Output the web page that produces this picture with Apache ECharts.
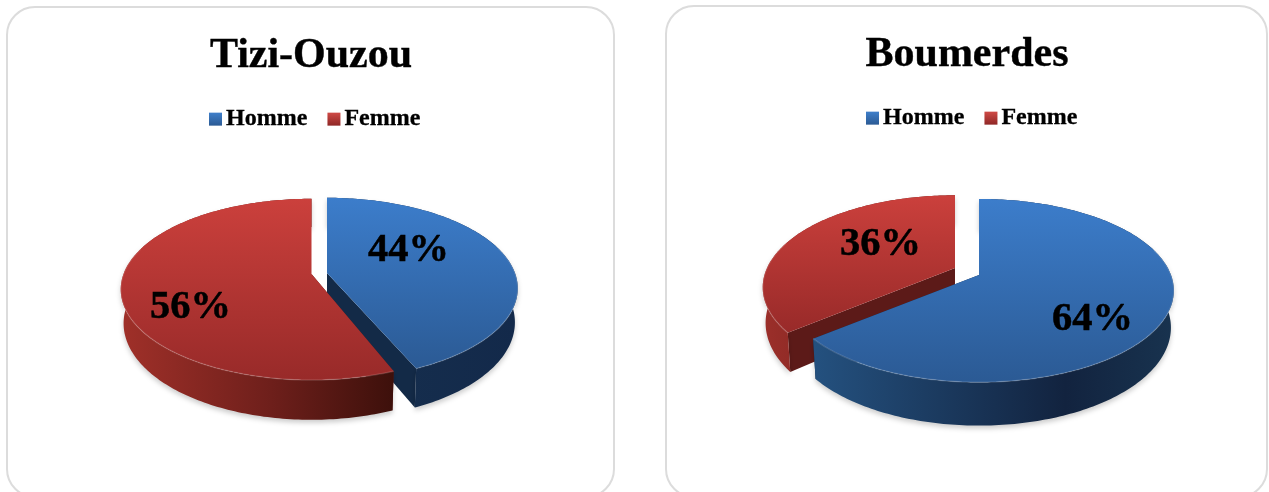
<!DOCTYPE html>
<html>
<head>
<meta charset="utf-8">
<style>html,body{margin:0;padding:0;background:#fff}#c{width:1269px;height:492px}</style>
<script src="https://cdn.jsdelivr.net/npm/echarts@6/dist/echarts.min.js"></script>
</head>
<body>
<div id="c"></div>
<script>
var categories = ['Homme', 'Femme'];
var tiziOuzouValues = [44, 56];
var boumerdesValues = [64, 36];
var chartTitles = ['Tizi-Ouzou', 'Boumerdes'];

var LG = echarts.graphic.LinearGradient;
var FONT = '"Liberation Serif", "Times New Roman", serif';
var BOTTOM_SCALE = 0.985;

function vgrad(a, b) { return new LG(0, 0, 0, 1, [{offset: 0, color: a}, {offset: 1, color: b}]); }
function hgrad(stops) {
  return new LG(0, 0, 1, 0, stops.map(function (s) { return {offset: s[0], color: s[1]}; }));
}
var topStyle = {Homme: ['#3c7dcb', '#2b5a94'], Femme: ['#cb403c', '#982a29']};
var innerWall = {Homme: '#132a47', Femme: '#5c1a18'};
var legendFill = {Homme: vgrad('#3f7fca', '#2b5a94'), Femme: vgrad('#cf4a46', '#8f2726')};

// Each slice: apex and radii of the projected disc, where its label sits.
var layouts = [
  {values: tiziOuzouValues, order: [0, 1], slices: [
    {ax: 327, ay: 273, r: 188, k: 88, p: 0.17, depth: 33, trim: -2, lx: 408.5, ly: 251, wall: [[0, '#16304f'], [1, '#13294a']]},
    {ax: 311.5, ay: 274, r: 188, k: 88, p: 0.17, depth: 33, trim: 0, lx: 190.5, ly: 308, wall: [[0, '#a03029'], [0.55, '#6e1f1b'], [1, '#3d100b']]}
  ]},
  {values: boumerdesValues, order: [1, 0], slices: [
    {ax: 979, ay: 275, r: 192, k: 89, p: 0.17, depth: 36, trim: 0, lx: 1092.5, ly: 320, wall: [[0, '#24517f'], [0.7, '#12233f'], [1, '#18334f']]},
    {ax: 955, ay: 268, r: 188, k: 88, p: 0.21, depth: 34, trim: 0, lx: 880.5, ly: 245, wall: [[0, '#9c2f2a'], [1, '#5a1714']]}
  ]}
];

function makeSeries(layout) {
  var total = layout.values.reduce(function (a, b) { return a + b; }, 0);
  var starts = [], acc = 0;
  layout.values.forEach(function (v) { starts.push(acc / total * 360); acc += v; });
  return layout.order.map(function (i) {
    var g = layout.slices[i], name = categories[i];
    var a0 = starts[i];
    return {
      type: 'custom', name: name, coordinateSystem: 'none', silent: true,
      itemStyle: {color: legendFill[name]},
      data: [[layout.values[i]]],
      renderItem: function (params, api) {
        var value = api.value(0), a1 = a0 + value / total * 360 + g.trim;
        function pt(deg, rr, bottom) {
          var t = deg * Math.PI / 180, u = Math.sin(t), v = Math.cos(t);
          var s = 1 / (1 + g.p * v * rr);
          var f = bottom ? BOTTOM_SCALE : 1;
          return [g.ax + g.r * rr * u * s * f, g.ay - g.k * rr * v * s + (bottom ? g.depth * s : 0)];
        }
        var arc = [], arcB = [], front = [];
        for (var d = a0; d < a1; d += 1) {
          arc.push(pt(d, 1)); arcB.push(pt(d, 1, true));
          if (Math.cos(d * Math.PI / 180) < 0.3) front.push(pt(d, 1));
        }
        arc.push(pt(a1, 1)); arcB.push(pt(a1, 1, true));
        if (Math.cos(a1 * Math.PI / 180) < 0.3) front.push(pt(a1, 1));
        var kids = [];
        [a0, a1].forEach(function (e) {
          kids.push({type: 'polygon',
            shape: {points: [pt(e, 0), pt(e, 1), pt(e, 1, true), pt(e, 0, true)]},
            style: {fill: innerWall[name]}});
        });
        kids.push({type: 'polygon', shape: {points: arc.concat(arcB.slice().reverse())},
          style: {fill: hgrad(g.wall), shadowBlur: 5, shadowOffsetY: 3, shadowColor: 'rgba(0,0,0,0.2)'}});
        kids.push({type: 'polygon', shape: {points: [pt(a0, 0)].concat(arc)},
          style: {fill: vgrad(topStyle[name][0], topStyle[name][1])}});
        kids.push({type: 'polyline', shape: {points: front},
          style: {fill: 'none', stroke: 'rgba(255,255,255,0.14)', lineWidth: 1.5}});
        kids.push({type: 'text', style: {text: value + '%', x: g.lx, y: g.ly, fill: '#000',
          font: 'bold 40.5px ' + FONT, align: 'center', verticalAlign: 'middle',
          stroke: '#000', lineWidth: 0.5}});
        return {type: 'group', children: kids};
      }
    };
  });
}

var chart = echarts.init(document.getElementById('c'), null, {renderer: 'canvas'});
var legendBase = {
  data: categories, orient: 'horizontal', padding: 0, itemWidth: 13, itemHeight: 13, itemGap: 20,
  icon: 'rect', selectedMode: false,
  textStyle: {fontFamily: FONT, fontWeight: 'bold', fontSize: 24, color: '#000',
    textBorderColor: '#000', textBorderWidth: 0.3, padding: [0, 0, 0, -1]}
};
var titleText = {fontFamily: FONT, fontWeight: 'bold', fontSize: 42, color: '#000',
  textBorderColor: '#000', textBorderWidth: 0.4};
chart.setOption({
  animation: false,
  backgroundColor: '#fff',
  title: [
    {text: chartTitles[0], left: 311, top: 35, textAlign: 'center', padding: 0, textStyle: titleText},
    {text: chartTitles[1], left: 967, top: 34, textAlign: 'center', padding: 0, textStyle: titleText}
  ],
  legend: [
    Object.assign({}, legendBase, {left: 209, top: 107}),
    Object.assign({}, legendBase, {left: 866, top: 106})
  ],
  graphic: [
    {type: 'rect', shape: {x: 7, y: 7, width: 607, height: 490, r: 28},
     style: {fill: 'none', stroke: '#dcdcdc', lineWidth: 2}},
    {type: 'rect', shape: {x: 666, y: 6, width: 601, height: 491, r: 28},
     style: {fill: 'none', stroke: '#dcdcdc', lineWidth: 2}}
  ],
  series: makeSeries(layouts[0]).concat(makeSeries(layouts[1]))
});
</script>
</body>
</html>
